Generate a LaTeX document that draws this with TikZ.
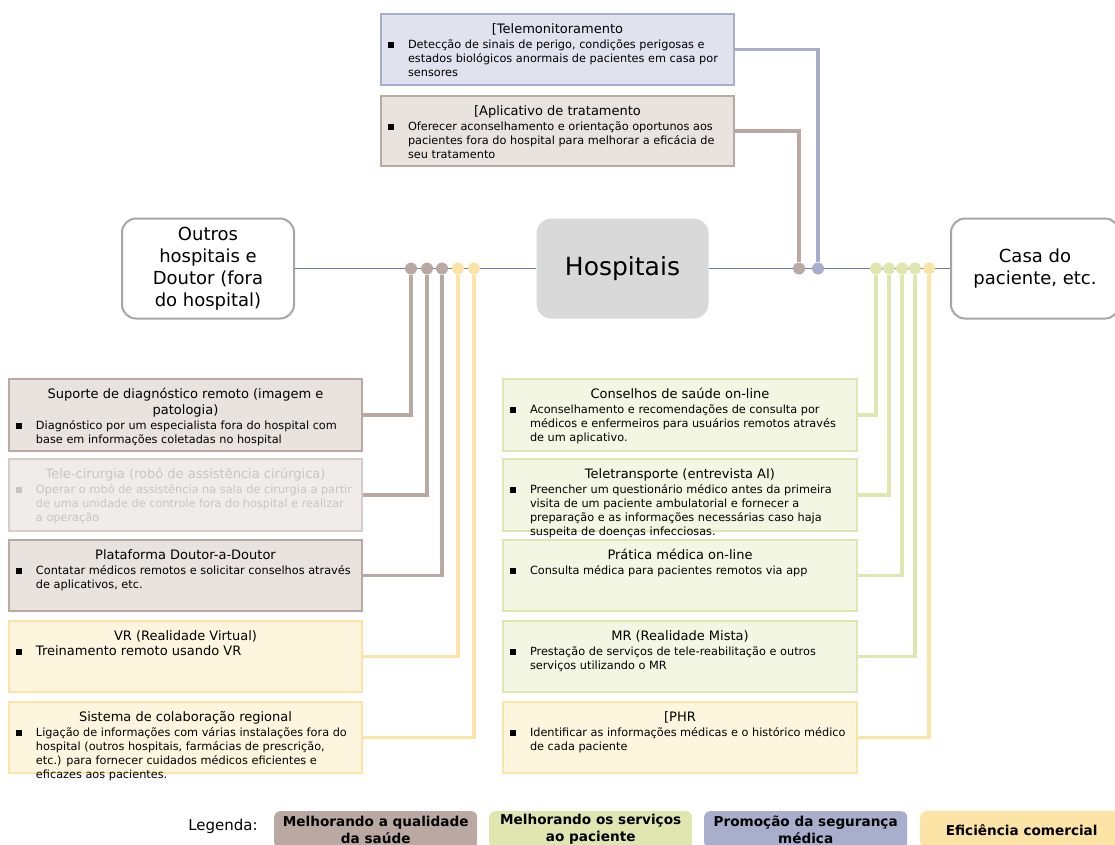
\documentclass[tikz,border=0pt]{standalone}
\usepackage{fontspec}
\setmainfont{DejaVu Sans}
\definecolor{qualln}{HTML}{B9A9A2}
\definecolor{qualbg}{HTML}{E9E3E0}
\definecolor{servln}{HTML}{DFE6B0}
\definecolor{servbg}{HTML}{F3F6E2}
\definecolor{safeln}{HTML}{A8AECB}
\definecolor{safebg}{HTML}{E0E3ED}
\definecolor{effln}{HTML}{FCE4A6}
\definecolor{effbg}{HTML}{FEF5DF}
\definecolor{fadeln}{HTML}{D6CCC8}
\definecolor{fadebg}{HTML}{EFECEA}
\definecolor{fadetxt}{HTML}{C6C6C6}
\definecolor{mainln}{HTML}{6E7DAF}
\definecolor{siteln}{HTML}{A6A6A6}
\definecolor{hospbg}{HTML}{D9D9D9}
\newcommand{\ttlfont}{\fontsize{13}{16}\selectfont}
\newcommand{\bdyfont}{\fontsize{11.3}{14}\selectfont}
\newcommand{\sitefont}{\fontsize{18}{22}\selectfont}
\newcommand{\legfont}{\fontsize{13.6}{17}\selectfont}
% box text: width, height, title, body
\newcommand{\svctext}[4]{\parbox[t][#2pt][t]{#1pt}{%
  {\centering\ttlfont\rule{0pt}{19pt}#3\par}\vspace{1pt}%
  {\bdyfont\raggedright\leftskip=27pt\rightskip=-12pt plus 1fil
   \noindent\hspace*{-20pt}\makebox[20pt][l]{\rule[0.5pt]{6pt}{6pt}}#4\par}}}
\tikzset{
  svc/.style={draw=#1ln, fill=#1bg, line width=2pt, inner sep=0pt, anchor=north west},
  conn/.style={draw=#1ln, line width=3.5pt},
  joint/.style={circle, fill=#1ln, inner sep=0pt, minimum size=12pt},
  site/.style={draw=siteln, line width=2pt, rounded corners=14pt, fill=white,
    minimum width=#1, minimum height=100pt, align=center, font=\sitefont},
  legbox/.style={fill=#1ln, rounded corners=6pt, minimum width=203pt,
    minimum height=37pt, anchor=north west, align=center, font=\legfont\bfseries}
}
\begin{document}
\begin{tikzpicture}[x=1pt,y=-1pt]
\useasboundingbox (0,0) rectangle (1115,844);
\clip (0,0) rectangle (1115,844);

% places
\node[site=172pt] (oh) at (208,268.5) {Outros\\hospitais e\\Doutor (fora\\do hospital)};
\node[fill=hospbg, rounded corners=15pt, minimum width=172pt, minimum height=100pt,
  font=\fontsize{25}{30}\selectfont] (hosp) at (622.5,268.5) {Hospitais};
\node[site=168pt] (casa) at (1035,268.5) {Casa do\\paciente, etc.};

% top services
\node[svc=safe] (tm) at (380,13) {\svctext{353}{71}{[Telemonitoramento}{Detecção de sinais de perigo, condições perigosas e\\estados biológicos anormais de pacientes em casa por\\sensores}};
\node[svc=qual] (ap) at (380,95) {\svctext{353}{70}{[Aplicativo de tratamento}{Oferecer aconselhamento e orientação oportunos aos\\pacientes fora do hospital para melhorar a eficácia de\\seu tratamento}};

% left services
\node[svc=qual] (sup) at (8,378) {\svctext{353}{72}{Suporte de diagnóstico remoto (imagem e\\patologia)}{Diagnóstico por um especialista fora do hospital com\\base em informações coletadas no hospital}};
\node[svc=fade, text=fadetxt] (tc) at (8,458) {\svctext{353}{72}{Tele-cirurgia (robô de assistência cirúrgica)}{Operar o robô de assistência na sala de cirurgia a partir\\de uma unidade de controle fora do hospital e realizar\\a operação}};
\node[svc=qual] (dd) at (8,539) {\svctext{353}{71}{Plataforma Doutor-a-Doutor}{Contatar médicos remotos e solicitar conselhos através\\de aplicativos, etc.}};
\node[svc=eff] (vr) at (8,620) {\svctext{353}{71}{VR (Realidade Virtual)}{{\ttlfont Treinamento remoto usando VR}}};
\node[svc=eff] (reg) at (8,701) {\svctext{353}{71}{Sistema de colaboração regional}{Ligação de informações com várias instalações fora do\\hospital (outros hospitais, farmácias de prescrição,\\etc.) para fornecer cuidados médicos eficientes e\\eficazes aos pacientes.}};

% right services
\node[svc=serv] (con) at (502,378) {\svctext{354}{72}{Conselhos de saúde on-line}{Aconselhamento e recomendações de consulta por\\médicos e enfermeiros para usuários remotos através\\de um aplicativo.}};
\node[svc=serv] (tt) at (502,458) {\svctext{354}{72}{Teletransporte (entrevista AI)}{Preencher um questionário médico antes da primeira\\visita de um paciente ambulatorial e fornecer a\\preparação e as informações necessárias caso haja\\suspeita de doenças infecciosas.}};
\node[svc=serv] (pm) at (502,539) {\svctext{354}{71}{Prática médica on-line}{Consulta médica para pacientes remotos via app}};
\node[svc=serv] (mr) at (502,620) {\svctext{354}{71}{MR (Realidade Mista)}{Prestação de serviços de tele-reabilitação e outros\\serviços utilizando o MR}};
\node[svc=eff] (phr) at (502,701) {\svctext{354}{71}{[PHR}{Identificar as informações médicas e o histórico médico\\de cada paciente}};

% main axis
\draw[mainln, line width=1.3pt] (oh) -- (hosp);
\draw[mainln, line width=1.3pt] (hosp) -- (casa);

% joints
\node[joint=qual] (dl1) at (411,268.5) {};
\node[joint=qual] (dl2) at (427,268.5) {};
\node[joint=qual] (dl3) at (442,268.5) {};
\node[joint=eff] (dl4) at (458,268.5) {};
\node[joint=eff] (dl5) at (474,268.5) {};
\node[joint=qual] (dt1) at (799,268.5) {};
\node[joint=safe] (dt2) at (818,268.5) {};
\node[joint=serv] (dr1) at (876,268.5) {};
\node[joint=serv] (dr2) at (889,268.5) {};
\node[joint=serv] (dr3) at (902,268.5) {};
\node[joint=serv] (dr4) at (915,268.5) {};
\node[joint=eff] (dr5) at (929,268.5) {};

% connectors
\draw[conn=safe] (tm) -| (dt2);
\draw[conn=qual] (ap) -| (dt1);
\draw[conn=qual] (sup) -| (dl1);
\draw[conn=qual] (tc) -| (dl2);
\draw[conn=qual] (dd) -| (dl3);
\draw[conn=eff] (vr) -| (dl4);
\draw[conn=eff] (reg) -| (dl5);
\draw[conn=serv] (con) -| (dr1);
\draw[conn=serv] (tt) -| (dr2);
\draw[conn=serv] (pm) -| (dr3);
\draw[conn=serv] (mr) -| (dr4);
\draw[conn=eff] (phr) -| (dr5);

% legend
\node[font=\fontsize{15}{18}\selectfont] (lgl) at (223,826) {Legenda:};
\node[legbox=qual] (lgq) at (274,811) {Melhorando a qualidade\\da saúde};
\node[legbox=serv] (lgs) at (489,811) {Melhorando os serviços\\ao paciente};
\node[legbox=safe] (lgp) at (704,811) {Promoção da segurança\\médica};
\node[legbox=eff] (lge) at (920,811) {Eficiência comercial};
\end{tikzpicture}
\end{document}
